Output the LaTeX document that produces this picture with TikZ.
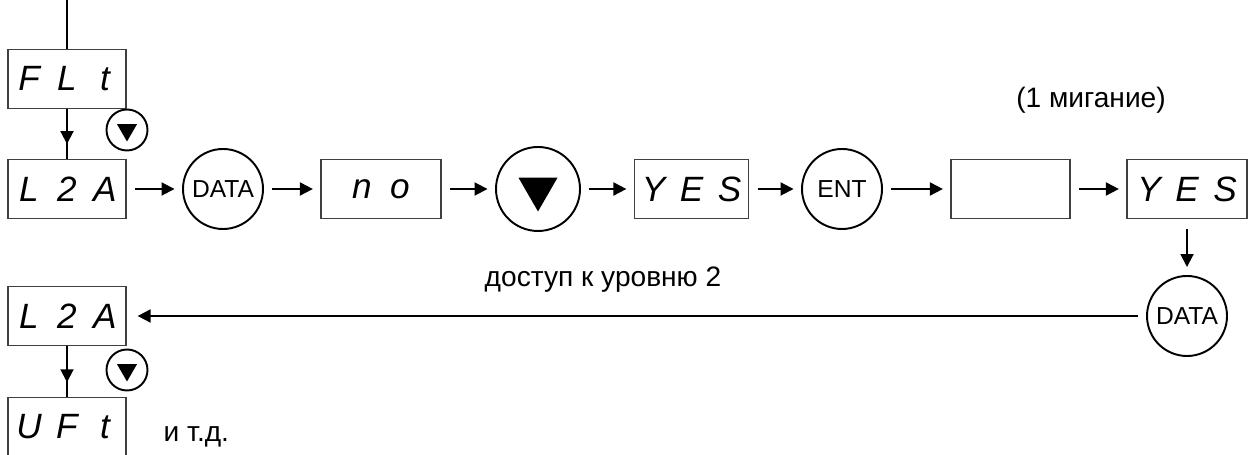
\documentclass[tikz,border=0pt]{standalone}
\usepackage{fontspec}
\setmainfont{Liberation Sans}
\usetikzlibrary{arrows.meta,calc,shapes.geometric}
\newcommand\seg[1]{\makebox[0.76cm]{#1}}

\begin{document}
\begin{tikzpicture}[
    font=\fontsize{16}{19}\selectfont,
    disp/.style={draw=black!75, line width=0.7pt, minimum width=2.36cm,
      minimum height=1.17cm, inner sep=0pt, font=\fontsize{20}{20}\selectfont\itshape},
    key/.style={circle, draw, line width=1.1pt, minimum size=1.6cm,
      inner sep=0pt, font=\fontsize{14}{14}\selectfont},
    smallkey/.style={circle, draw, line width=1.1pt, minimum size=0.82cm, inner sep=0pt},
    tri/.style={regular polygon, regular polygon sides=3, shape border rotate=180,
      fill, inner sep=0pt, minimum size=#1},
    tri/.default=0.46cm,
    arr/.style={line width=1.1pt, -{Triangle[length=0.26cm,width=0.26cm]}},
    gap/.style={shorten <=0.17cm, shorten >=0.15cm}]
    \useasboundingbox (0,0) rectangle (25,9.1);
    % top column
    \coordinate (top) at (1.34,9.1);
    \node[disp] (flt) at (1.34,7.52) {\seg{F}\seg{L}\seg{t}};
    \node[smallkey] (dk1) at (2.54,6.5) {};
    \node[tri] (dk1tri) at (dk1) {};
    % main row
    \node[disp] (lza) at (1.34,5.32) {\seg{L}\seg{2}\seg{A}};
    \node[key] (data) at (4.46,5.32) {DATA};
    \node[disp, minimum width=2.4cm] (no) at (7.62,5.32) {\seg{n}\seg{o}};
    \node[key, minimum size=1.68cm] (down) at (10.76,5.32) {};
    \node[tri=0.9cm] (downtri) at (down) {};
    \node[disp, minimum width=2.22cm] (yes) at (13.83,5.32) {\seg{Y}\seg{E}\seg{S}};
    \node[key] (ent) at (16.84,5.32) {ENT};
    \node[disp, minimum width=2.38cm] (blank) at (20.21,5.32) {};
    \node[disp, minimum width=2.4cm] (yesb) at (23.74,5.32) {\seg{Y}\seg{E}\seg{S}};
    \node (blink) at (21.82,7.1) {(1 мигание)};
    % return row
    \node[key] (datab) at (23.74,2.78) {DATA};
    \node[disp] (lzb) at (1.34,2.78) {\seg{L}\seg{2}\seg{A}};
    \node (access) at (12.06,3.5) {доступ к уровню 2};
    \node[smallkey] (dk2) at (2.54,1.7) {};
    \node[tri] (dk2tri) at (dk2) {};
    \node[disp] (uft) at (1.34,0.56) {\seg{U}\seg{F}\seg{t}};
    \node[anchor=west] (etc) at (3.15,0.36) {и т.д.};
    % connectors
    \draw[line width=1.1pt] (top) -- (flt);
    \draw[line width=1.1pt] (flt) -- (lza);
    \draw[arr] (flt.south) -- ($(flt.south)!0.7!(lza.north)$);
    \draw[arr,gap] (lza) -- (data);
    \draw[arr,gap] (data) -- (no);
    \draw[arr,gap] (no) -- (down);
    \draw[arr,gap] (down) -- (yes);
    \draw[arr,gap] (yes) -- (ent);
    \draw[arr,gap] (ent) -- (blank);
    \draw[arr,gap] (blank) -- (yesb);
    \draw[arr, shorten <=0.2cm, shorten >=0.16cm] (yesb) -- (datab);
    \draw[arr, shorten <=0.16cm, shorten >=0.22cm] (datab) -- (lzb);
    \draw[line width=1.1pt] (lzb) -- (uft);
    \draw[arr] (lzb.south) -- ($(lzb.south)!0.71!(uft.north)$);
\end{tikzpicture}
\end{document}
